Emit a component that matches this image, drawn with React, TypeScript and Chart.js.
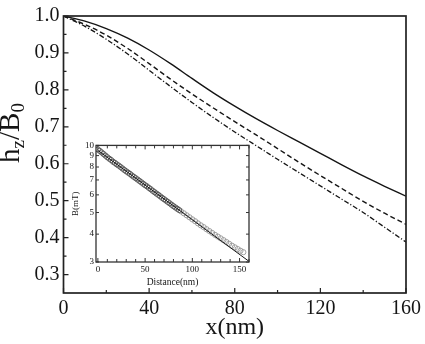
import React, { useEffect, useRef } from "react";
import { Chart, registerables } from "chart.js";

Chart.register(...registerables);

// Main plot: normalised field h_z/B0 versus distance x (nm)
const distanceNm = [0, 10, 20, 30, 40, 50, 60, 70, 80, 90, 100, 110, 120, 130, 140, 150, 160];
const solidRatio = [1.0, 0.986, 0.966, 0.94, 0.908, 0.871, 0.831, 0.792, 0.756, 0.722, 0.69, 0.659, 0.628, 0.597, 0.567, 0.539, 0.512];
const dashedRatio = [1.0, 0.977, 0.948, 0.912, 0.871, 0.829, 0.789, 0.751, 0.714, 0.678, 0.641, 0.604, 0.568, 0.533, 0.498, 0.466, 0.436];
const dashDotRatio = [1.0, 0.972, 0.937, 0.897, 0.853, 0.809, 0.766, 0.725, 0.686, 0.649, 0.612, 0.576, 0.54, 0.504, 0.468, 0.428, 0.388];

const xTickValues = [0, 40, 80, 120, 160];
const xMinorTicks = [20, 60, 100, 140];
const yTickValues = [0.3, 0.4, 0.5, 0.6, 0.7, 0.8, 0.9, 1.0];
const yMinorTicks = [0.35, 0.45, 0.55, 0.65, 0.75, 0.85, 0.95];

// Inset: B(mT) against distance on a log axis
const insetLineX = [0, 160];
const insetLineB = [9.5, 3.02];
const insetDenseX = [0, 2, 4, 6, 8, 10, 12, 14, 16, 18, 20, 22, 24, 26, 28, 30, 32, 34, 36, 38, 40, 42, 44, 46, 48, 50, 52, 54, 56, 58, 60, 62, 64, 66, 68, 70, 72, 74, 76, 78, 80, 82, 84, 86];
const insetDenseB = [9.6, 9.45, 9.3, 9.15, 9.0, 8.85, 8.72, 8.6, 8.45, 8.35, 8.22, 8.12, 8.0, 7.88, 7.76, 7.65, 7.55, 7.45, 7.33, 7.23, 7.13, 7.03, 6.93, 6.83, 6.73, 6.63, 6.55, 6.45, 6.36, 6.26, 6.17, 6.08, 6.0, 5.91, 5.82, 5.74, 5.66, 5.58, 5.5, 5.42, 5.34, 5.27, 5.2, 5.13];
const insetSparseX = [88, 91, 94, 97, 100, 103, 106, 109, 112, 115, 118, 121, 124, 127, 130, 133, 136, 139, 142, 145, 148, 151, 154];
const insetSparseB = [5.06, 4.96, 4.86, 4.76, 4.66, 4.57, 4.47, 4.38, 4.3, 4.21, 4.13, 4.05, 3.97, 3.9, 3.83, 3.76, 3.69, 3.62, 3.55, 3.49, 3.43, 3.37, 3.32];
const insetXTicks = [0, 50, 100, 150];
const insetXMinor = [0, 10, 20, 30, 40, 50, 60, 70, 80, 90, 100, 110, 120, 130, 140, 150, 160];
const insetYTicks = [3, 4, 5, 6, 7, 8, 9, 10];

const SERIF = '"Liberation Serif", "Times New Roman", serif';
const INK = "#151515";

const zip = (xs: number[], ys: number[]) => xs.map((x, i) => ({ x, y: ys[i] }));

// Frame around the plot area plus inward tick marks on the bottom and left sides
const mainFrame = {
  id: "mainFrame",
  afterDraw(chart: any) {
    const { ctx, chartArea: a, scales } = chart;
    ctx.save();
    ctx.strokeStyle = "#222";
    ctx.lineWidth = 1.7;
    ctx.strokeRect(a.left, a.top, a.right - a.left, a.bottom - a.top);
    ctx.lineWidth = 1.2;
    ctx.beginPath();
    xTickValues.forEach((v) => {
      const px = scales.x.getPixelForValue(v);
      ctx.moveTo(px, a.bottom);
      ctx.lineTo(px, a.bottom - 5);
    });
    xMinorTicks.forEach((v) => {
      const px = scales.x.getPixelForValue(v);
      ctx.moveTo(px, a.bottom);
      ctx.lineTo(px, a.bottom - 3);
    });
    yTickValues.forEach((v) => {
      const py = scales.y.getPixelForValue(v);
      ctx.moveTo(a.left, py);
      ctx.lineTo(a.left + 5, py);
    });
    yMinorTicks.forEach((v) => {
      const py = scales.y.getPixelForValue(v);
      ctx.moveTo(a.left, py);
      ctx.lineTo(a.left + 3, py);
    });
    ctx.stroke();

    // Rotated y-axis title with subscripts: h_z/B_0
    const big = `29px ${SERIF}`;
    const small = `19px ${SERIF}`;
    const parts: [string, string, number][] = [
      ["h", big, 0],
      ["z", small, 5],
      ["/B", big, 0],
      ["0", small, 5],
    ];
    let total = 0;
    parts.forEach(([t, f]) => {
      ctx.font = f;
      total += ctx.measureText(t).width;
    });
    ctx.translate(19, 133);
    ctx.rotate(-Math.PI / 2);
    ctx.fillStyle = INK;
    ctx.textBaseline = "alphabetic";
    let cx = -total / 2;
    parts.forEach(([t, f, dy]) => {
      ctx.font = f;
      ctx.fillText(t, cx, dy);
      cx += ctx.measureText(t).width;
    });
    ctx.restore();
  },
};

// White plot area, frame and inward ticks on all four sides of the inset
const insetFrame = {
  id: "insetFrame",
  beforeDatasetsDraw(chart: any) {
    const { ctx, chartArea: a } = chart;
    ctx.save();
    ctx.fillStyle = "#fff";
    ctx.fillRect(a.left, a.top, a.right - a.left, a.bottom - a.top);
    ctx.restore();
  },
  afterDraw(chart: any) {
    const { ctx, chartArea: a, scales } = chart;
    ctx.save();
    ctx.strokeStyle = "#333";
    ctx.lineWidth = 1.3;
    ctx.strokeRect(a.left, a.top, a.right - a.left, a.bottom - a.top);
    ctx.lineWidth = 1;
    ctx.beginPath();
    insetXMinor.forEach((v) => {
      const px = scales.x.getPixelForValue(v);
      const len = insetXTicks.includes(v) ? 4 : 3;
      ctx.moveTo(px, a.bottom);
      ctx.lineTo(px, a.bottom - len);
      ctx.moveTo(px, a.top);
      ctx.lineTo(px, a.top + len);
    });
    insetYTicks.forEach((v) => {
      const py = scales.y.getPixelForValue(v);
      ctx.moveTo(a.left, py);
      ctx.lineTo(a.left + 3, py);
      ctx.moveTo(a.right, py);
      ctx.lineTo(a.right - 3, py);
    });
    ctx.stroke();
    ctx.restore();
  },
};

const hiddenGrid = { display: false, drawTicks: false };

export default function App() {
  const mainRef = useRef<HTMLCanvasElement>(null);
  const insetRef = useRef<HTMLCanvasElement>(null);

  useEffect(() => {
    document.body.style.margin = "0";
    const main = new Chart(mainRef.current as HTMLCanvasElement, {
      type: "line",
      data: {
        datasets: [
          { data: zip(distanceNm, solidRatio), borderColor: INK, borderWidth: 1.4, pointRadius: 0, cubicInterpolationMode: "monotone" },
          { data: zip(distanceNm, dashedRatio), borderColor: INK, borderWidth: 1.4, borderDash: [5, 3], pointRadius: 0, cubicInterpolationMode: "monotone" },
          { data: zip(distanceNm, dashDotRatio), borderColor: INK, borderWidth: 1.3, borderDash: [5, 2, 1.2, 2], pointRadius: 0, cubicInterpolationMode: "monotone" },
        ],
      },
      options: {
        animation: false,
        responsive: false,
        maintainAspectRatio: false,
        layout: { padding: { top: 9, right: 8, left: 0, bottom: 0 } },
        plugins: { legend: { display: false }, tooltip: { enabled: false } },
        scales: {
          x: {
            type: "linear",
            min: 0,
            max: 160,
            grid: hiddenGrid,
            border: { display: false },
            afterBuildTicks: (s: any) => {
              s.ticks = xTickValues.map((v) => ({ value: v }));
            },
            afterFit: (s: any) => {
              s.height = 51;
            },
            ticks: { font: { family: SERIF, size: 20 }, color: INK, padding: 4, maxRotation: 0, autoSkip: false },
            title: { display: true, text: "x(nm)", font: { family: SERIF, size: 24 }, color: INK, padding: { top: 0, bottom: 2 } },
          },
          y: {
            type: "linear",
            min: 0.25,
            max: 1.0,
            grid: hiddenGrid,
            border: { display: false },
            afterBuildTicks: (s: any) => {
              s.ticks = yTickValues.map((v) => ({ value: v }));
            },
            afterFit: (s: any) => {
              s.width = 63.5;
            },
            ticks: {
              font: { family: SERIF, size: 20 },
              color: INK,
              padding: 4,
              autoSkip: false,
              callback: (v: any) => Number(v).toFixed(1),
            },
          },
        },
      },
      plugins: [mainFrame],
    } as any);

    const inset = new Chart(insetRef.current as HTMLCanvasElement, {
      type: "scatter",
      data: {
        datasets: [
          { data: zip(insetLineX, insetLineB), showLine: true, borderColor: INK, borderWidth: 1, pointRadius: 0 },
          { data: zip(insetDenseX, insetDenseB), showLine: false, pointStyle: "circle", pointRadius: 2.6, borderWidth: 0.9, pointBorderColor: "#505050", pointBackgroundColor: "rgba(0,0,0,0)" },
          { data: zip(insetSparseX, insetSparseB), showLine: false, pointStyle: "circle", pointRadius: 2.6, borderWidth: 0.8, pointBorderColor: "#8c8c8c", pointBackgroundColor: "rgba(0,0,0,0)" },
        ],
      },
      options: {
        animation: false,
        responsive: false,
        maintainAspectRatio: false,
        layout: { padding: { top: 7, right: 6, left: 0, bottom: 0 } },
        plugins: { legend: { display: false }, tooltip: { enabled: false } },
        scales: {
          x: {
            type: "linear",
            min: -2,
            max: 160,
            grid: hiddenGrid,
            border: { display: false },
            afterBuildTicks: (s: any) => {
              s.ticks = insetXTicks.map((v) => ({ value: v }));
            },
            afterFit: (s: any) => {
              s.height = 26;
            },
            ticks: { font: { family: SERIF, size: 9 }, color: INK, padding: 2, maxRotation: 0, autoSkip: false },
            title: { display: true, text: "Distance(nm)", font: { family: SERIF, size: 9.5 }, color: INK, padding: 0 },
          },
          y: {
            type: "logarithmic",
            min: 3,
            max: 10,
            grid: hiddenGrid,
            border: { display: false },
            afterBuildTicks: (s: any) => {
              s.ticks = insetYTicks.map((v) => ({ value: v }));
            },
            afterFit: (s: any) => {
              s.width = 26;
            },
            ticks: { font: { family: SERIF, size: 9 }, color: INK, padding: 2, autoSkip: false, callback: (v: any) => String(v) },
            title: { display: true, text: "B(mT)", font: { family: SERIF, size: 9 }, color: INK, padding: 0 },
          },
        },
      },
      plugins: [insetFrame],
    } as any);

    return () => {
      main.destroy();
      inset.destroy();
    };
  }, []);

  return (
    <div style={{ position: "relative", width: 425, height: 344, background: "#fff" }}>
      <canvas ref={mainRef} width={425} height={344} style={{ position: "absolute", left: 0, top: 0, width: 425, height: 344 }} />
      <canvas ref={insetRef} width={185} height={150} style={{ position: "absolute", left: 70, top: 138, width: 185, height: 150 }} />
    </div>
  );
}
